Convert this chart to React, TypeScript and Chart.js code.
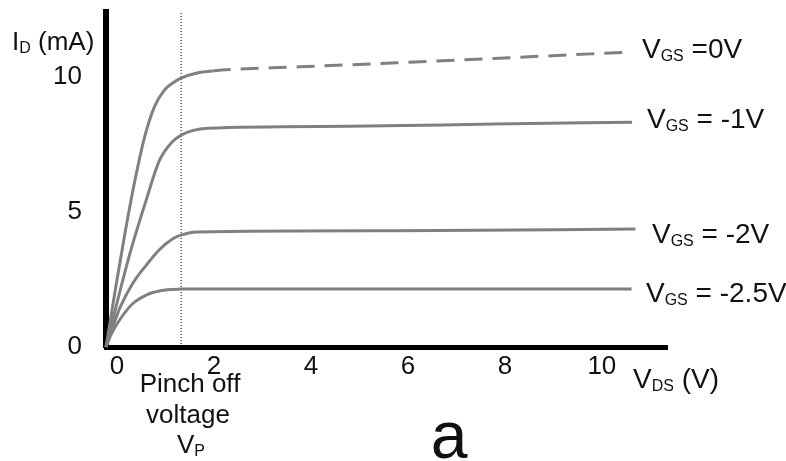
import React, { useEffect, useRef } from 'react';
import { Chart, registerables } from 'chart.js';

Chart.register(...registerables);

// Drain current I_D (mA) vs drain-source voltage V_DS (V) for several V_GS
const vdsA = [0, 0.2, 0.4, 0.6, 0.8, 1.0, 1.2, 1.4, 1.56, 1.9, 2.2, 4, 6, 8, 10, 10.85];
const idA = [0, 2.2, 4.3, 6.2, 7.8, 8.9, 9.5, 9.8, 9.96, 10.15, 10.22, 10.37, 10.52, 10.68, 10.85, 10.92];

const vdsB = [0, 0.25, 0.5, 0.84, 1.1, 1.37, 1.56, 1.8, 2.1, 5, 8, 10.85];
const idB = [0, 1.8, 3.5, 5.5, 6.9, 7.6, 7.85, 8.02, 8.1, 8.17, 8.25, 8.32];

const vdsC = [0, 0.15, 0.3, 0.55, 0.84, 1.1, 1.37, 1.56, 1.87, 6, 10.92];
const idC = [0, 0.8, 1.5, 2.35, 3.05, 3.6, 4.0, 4.15, 4.26, 4.3, 4.37];

const vdsD = [0, 0.1, 0.28, 0.55, 0.84, 1.1, 1.37, 1.56, 10.84];
const idD = [0, 0.45, 1.0, 1.6, 1.93, 2.07, 2.13, 2.15, 2.15];

const vgsLabels = [' =0V', ' = -1V', ' = -2V', ' = -2.5V'];
const pinchOffV = 1.55;
const dashFromV = 2.15;

const xTickValues = [0, 2, 4, 6, 8, 10];
const yTickValues = [0, 5, 10];
const X_MAX = 11.57;
const Y_MAX = 12.4;

const FONT = '"Liberation Sans", Arial, sans-serif';
const TEXT = '#111111';
const CURVE = '#808080';

const zip = (xs: number[], ys: number[]) => xs.map((x, i) => ({ x, y: ys[i] }));

const annotations = {
  id: 'annotations',
  afterDraw(chart: any) {
    const ctx = chart.ctx as CanvasRenderingContext2D;
    ctx.save();
    ctx.fillStyle = TEXT;
    ctx.textBaseline = 'alphabetic';
    ctx.textAlign = 'left';
    const sub = (x: number, y: number, main: string, s: string, rest: string, size: number, subSize: number) => {
      ctx.font = `${size}px ${FONT}`;
      ctx.fillText(main, x, y);
      let w = ctx.measureText(main).width;
      ctx.font = `${subSize}px ${FONT}`;
      ctx.fillText(s, x + w, y + 3);
      w += ctx.measureText(s).width;
      ctx.font = `${size}px ${FONT}`;
      ctx.fillText(rest, x + w, y);
    };
    // series labels
    const lx = [642, 647, 652, 646];
    const ly = [58, 128, 243, 302];
    vgsLabels.forEach((t, i) => sub(lx[i], ly[i], 'V', 'GS', t, 28, 16));
    // axis titles
    sub(12, 50, 'I', 'D', ' (mA)', 26, 16);
    sub(633, 388, 'V', 'DS', ' (V)', 28, 16);
    // pinch-off annotation
    ctx.textAlign = 'center';
    ctx.font = `26px ${FONT}`;
    ctx.fillText('Pinch off', 190, 392);
    ctx.fillText('voltage', 188, 423);
    ctx.textAlign = 'left';
    sub(177, 453, 'V', 'P', '', 26, 16);
    // panel letter
    ctx.textAlign = 'center';
    ctx.font = `66px ${FONT}`;
    ctx.fillText('a', 449, 458);
    ctx.restore();
  },
};

export default function App() {
  const ref = useRef<HTMLCanvasElement>(null);
  useEffect(() => {
    if (!ref.current) return;
    const lineDs = (xs: number[], ys: number[], dashed: boolean) => ({
      data: zip(xs, ys),
      borderColor: CURVE,
      borderWidth: 3,
      pointRadius: 0,
      cubicInterpolationMode: 'monotone' as const,
      clip: false as any,
      segment: dashed
        ? { borderDash: (c: any) => (c.p0.parsed.x >= dashFromV ? [18, 10] : undefined) }
        : undefined,
    });
    const chart = new Chart(ref.current, {
      type: 'line',
      data: {
        datasets: [
          lineDs(vdsA, idA, true),
          lineDs(vdsB, idB, false),
          lineDs(vdsC, idC, false),
          lineDs(vdsD, idD, false),
          {
            data: [
              { x: pinchOffV, y: 0 },
              { x: pinchOffV, y: Y_MAX },
            ],
            borderColor: '#000000',
            borderWidth: 1,
            borderDash: [1, 2],
            pointRadius: 0,
          },
        ],
      },
      options: {
        animation: false,
        responsive: false,
        maintainAspectRatio: false,
        layout: { padding: { top: 12, right: 119, left: 0, bottom: 0 } },
        plugins: { legend: { display: false }, tooltip: { enabled: false }, title: { display: false } },
        scales: {
          x: {
            type: 'linear',
            min: 0,
            max: X_MAX,
            grid: { display: false, drawTicks: false },
            border: { display: true, color: '#000000', width: 5 },
            afterBuildTicks: (s: any) => {
              s.ticks = xTickValues.map((v) => ({ value: v }));
            },
            afterFit: (s: any) => {
              s.height = 114;
              s.paddingLeft = 0;
              s.paddingRight = 0;
            },
            ticks: {
              color: TEXT,
              font: { family: FONT, size: 26 },
              padding: 4,
              labelOffset: 11,
              maxRotation: 0,
              autoSkip: false,
            },
          },
          y: {
            type: 'linear',
            min: 0,
            max: Y_MAX,
            grid: { display: false, drawTicks: false },
            border: { display: true, color: '#000000', width: 6 },
            afterBuildTicks: (s: any) => {
              s.ticks = yTickValues.map((v) => ({ value: v }));
            },
            afterFit: (s: any) => {
              s.width = 106;
              s.paddingTop = 0;
              s.paddingBottom = 0;
            },
            ticks: {
              color: TEXT,
              font: { family: FONT, size: 26 },
              padding: 24,
            },
          },
        },
      },
      plugins: [annotations],
    });
    return () => chart.destroy();
  }, []);
  return (
    <div style={{ position: 'fixed', left: 0, top: 0, width: 786, height: 461, background: '#ffffff' }}>
      <canvas ref={ref} width={786} height={461} />
    </div>
  );
}
